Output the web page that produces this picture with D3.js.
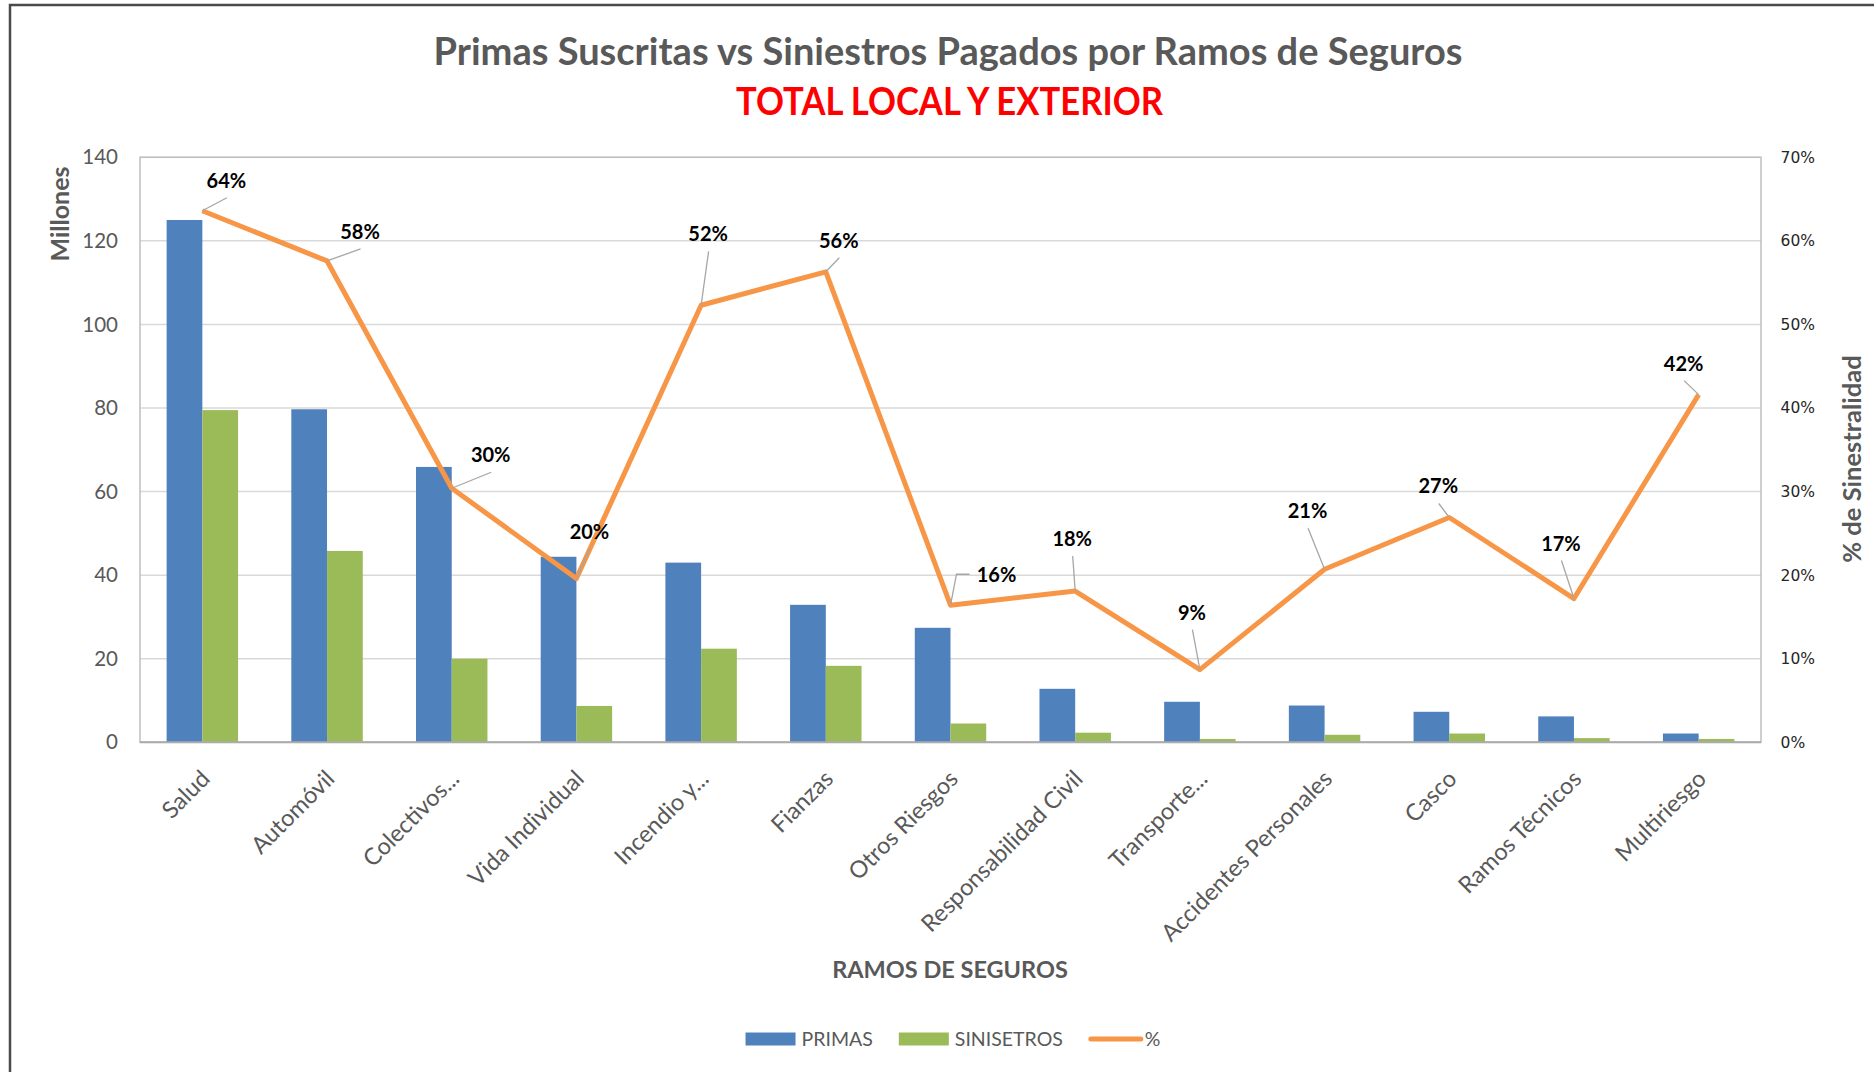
<!DOCTYPE html>
<html>
<head>
<meta charset="utf-8">
<script src="https://cdn.jsdelivr.net/npm/d3@7"></script>
<style>
  body { margin: 0; background: #fff; }
  svg { display: block; }
  text { font-family: Lato, "Open Sans", sans-serif; }
</style>
</head>
<body>
<div id="chart"></div>
<script>
// Data
const categories = ["Salud", "Automóvil", "Colectivos...", "Vida Individual", "Incendio y...", "Fianzas",
    "Otros Riesgos", "Responsabilidad Civil", "Transporte...", "Accidentes Personales", "Casco",
    "Ramos Técnicos", "Multiriesgo"];
const primas = [125.0, 79.7, 65.9, 44.4, 43.0, 32.9, 27.4, 12.8, 9.7, 8.8, 7.3, 6.2, 2.1];
const siniestros = [79.5, 45.8, 20.0, 8.7, 22.4, 18.3, 4.5, 2.3, 0.8, 1.8, 2.1, 1.0, 0.8];
const sinestralidad = [0.636, 0.576, 0.304, 0.196, 0.523, 0.563, 0.164, 0.181, 0.087, 0.207, 0.269, 0.172, 0.416];
const leftTicks = [0, 20, 40, 60, 80, 100, 120, 140];
const rightTicks = [0, 0.1, 0.2, 0.3, 0.4, 0.5, 0.6, 0.7];
const seriesNames = ["PRIMAS", "SINISETROS", "%"];

// where each % label was dragged to (offset from its point)
const labelOffsets = [[24, -30], [33, -29], [39, -33], [13, -47], [7, -71], [13, -31], [46, -30],
    [-3, -52], [-8, -57], [-17, -58], [-11, -31], [-13, -55], [-15, -31]];

const width = 1874;
const height = 1072;
const plot = { left: 140, right: 1761, top: 157.3, bottom: 742.3 };
const colors = { primas: "#4F81BD", siniestros: "#9BBB59", pct: "#F79646" };
const gray = "#595959";

const svg = d3.select("#chart")
    .append("svg")
    .attr("width", width)
    .attr("height", height);

// outer chart frame
svg.append("rect")
    .attr("x", 10).attr("y", 5)
    .attr("width", width).attr("height", height)
    .attr("fill", "none")
    .attr("stroke", "#4a4a4a")
    .attr("stroke-width", 2.5);

// Scales
const x = d3.scaleBand()
    .domain(categories)
    .range([plot.left, plot.right])
    .paddingInner(0.427)
    .paddingOuter(0.2135);

const xs = d3.scaleBand()
    .domain(["primas", "siniestros"])
    .range([0, x.bandwidth()]);

const yL = d3.scaleLinear().domain([0, 140]).range([plot.bottom, plot.top]);
const yR = d3.scaleLinear().domain([0, 0.7]).range([plot.bottom, plot.top]);

// Gridlines
svg.append("g")
    .selectAll("line")
    .data(leftTicks)
    .enter()
    .append("line")
    .attr("x1", plot.left).attr("x2", plot.right)
    .attr("y1", d => yL(d)).attr("y2", d => yL(d))
    .attr("stroke", "#D9D9D9")
    .attr("stroke-width", 1.5);

// plot area border
svg.append("rect")
    .attr("x", plot.left).attr("y", plot.top)
    .attr("width", plot.right - plot.left)
    .attr("height", plot.bottom - plot.top)
    .attr("fill", "none")
    .attr("stroke", "#BFBFBF")
    .attr("stroke-width", 1.5);

// Bars
const rows = categories.map((c, i) => ({ cat: c, primas: primas[i], siniestros: siniestros[i] }));

const groups = svg.append("g")
    .selectAll("g")
    .data(rows)
    .enter()
    .append("g")
    .attr("transform", d => `translate(${x(d.cat)},0)`);

groups.selectAll("rect")
    .data(d => ["primas", "siniestros"].map(k => ({ key: k, value: d[k] })))
    .enter()
    .append("rect")
    .attr("x", d => xs(d.key))
    .attr("y", d => yL(d.value))
    .attr("width", xs.bandwidth())
    .attr("height", d => yL(0) - yL(d.value))
    .attr("fill", d => colors[d.key]);

// axis baseline
svg.append("line")
    .attr("x1", plot.left).attr("x2", plot.right)
    .attr("y1", plot.bottom).attr("y2", plot.bottom)
    .attr("stroke", "#ABABAB")
    .attr("stroke-width", 2);

// Line series
const cx = i => x(categories[i]) + x.bandwidth() / 2;

const line = d3.line()
    .x((d, i) => cx(i))
    .y(d => yR(d));

svg.append("path")
    .datum(sinestralidad)
    .attr("d", line)
    .attr("fill", "none")
    .attr("stroke", colors.pct)
    .attr("stroke-width", 5)
    .attr("stroke-linejoin", "round");

// Data labels with leader lines
const fmtPct = d3.format(".0%");
const labelData = sinestralidad.map((v, i) => {
    const px = cx(i), py = yR(v);
    const [dx, dy] = labelOffsets[i];
    return { v, px, py, lx: px + dx, ly: py + dy };
});

const leaders = svg.append("g");
labelData.forEach(d => {
    let pts;
    if (d.lx - d.px > 42) {
        // label sits to the right: leader hooks into its left side
        pts = [[d.px, d.py], [d.px + 6, d.ly - 1], [d.lx - 27, d.ly - 1]];
    } else {
        pts = [[d.px, d.py], [d.lx + 0.5, d.ly + 17]];
    }
    leaders.append("path")
        .attr("d", d3.line()(pts))
        .attr("fill", "none")
        .attr("stroke", "#A6A6A6")
        .attr("stroke-width", 1.3);
});

svg.append("g")
    .selectAll("text")
    .data(labelData)
    .enter()
    .append("text")
    .attr("x", d => d.lx)
    .attr("y", d => d.ly + 7)
    .attr("text-anchor", "middle")
    .style("font-size", "20px")
    .style("font-weight", "700")
    .style("fill", "#000")
    .text(d => fmtPct(d.v));

// Left axis
const leftAxis = svg.append("g")
    .attr("transform", `translate(${plot.left},0)`)
    .call(d3.axisLeft(yL).tickValues(leftTicks).tickSize(0).tickPadding(22));
leftAxis.select(".domain").remove();
leftAxis.attr("font-family", null).attr("font-size", null);
leftAxis.selectAll("text")
    .style("font-size", "20.5px")
    .style("fill", gray);

// Right axis
const rightAxis = svg.append("g")
    .attr("transform", `translate(${plot.right},0)`)
    .call(d3.axisRight(yR).tickValues(rightTicks).tickFormat(fmtPct).tickSize(0).tickPadding(19.6));
rightAxis.select(".domain").remove();
rightAxis.attr("font-family", null).attr("font-size", null);
rightAxis.selectAll("text")
    .style("font-family", "'DejaVu Sans', Verdana, sans-serif")
    .style("font-size", "15.5px")
    .style("fill", "#262626");

// Bottom axis (rotated category labels)
const bottomAxis = svg.append("g")
    .attr("transform", `translate(0,${plot.bottom})`)
    .call(d3.axisBottom(x).tickSize(0));
bottomAxis.select(".domain").remove();
bottomAxis.attr("font-family", null).attr("font-size", null);
bottomAxis.selectAll("text")
    .attr("x", 0).attr("y", 0).attr("dy", null)
    .attr("text-anchor", "end")
    .attr("transform", "translate(9,38) rotate(-45)")
    .style("font-size", "23.5px")
    .style("fill", gray);

// Titles
svg.append("text")
    .attr("x", 948).attr("y", 65)
    .attr("text-anchor", "middle")
    .attr("textLength", 1029)
    .attr("lengthAdjust", "spacingAndGlyphs")
    .style("font-size", "38px")
    .style("font-weight", "700")
    .style("fill", gray)
    .text("Primas Suscritas vs Siniestros Pagados por Ramos de Seguros");

svg.append("text")
    .attr("x", 949.5).attr("y", 115)
    .attr("text-anchor", "middle")
    .attr("textLength", 427)
    .attr("lengthAdjust", "spacingAndGlyphs")
    .style("font-size", "39px")
    .style("font-weight", "700")
    .style("fill", "#FF0000")
    .text("TOTAL LOCAL Y EXTERIOR");

// Axis titles
svg.append("text")
    .attr("transform", "translate(69,214) rotate(-90)")
    .attr("text-anchor", "middle")
    .style("font-size", "25px")
    .style("font-weight", "700")
    .style("fill", gray)
    .text("Millones");

svg.append("text")
    .attr("transform", "translate(1861,459) rotate(-90)")
    .attr("text-anchor", "middle")
    .style("font-size", "25.5px")
    .style("font-weight", "700")
    .style("fill", gray)
    .text("% de Sinestralidad");

svg.append("text")
    .attr("x", 950).attr("y", 978)
    .attr("text-anchor", "middle")
    .style("font-size", "23.5px")
    .style("font-weight", "700")
    .style("fill", gray)
    .text("RAMOS DE SEGUROS");

// Legend
const legendY = 1039;
const legend = svg.append("g");
const items = seriesNames.map((name, i) => ({ name, key: ["primas", "siniestros", "pct"][i] }));
let lx = 0;
items.forEach(item => {
    const g = legend.append("g").attr("transform", `translate(${lx},0)`);
    if (item.key === "pct") {
        g.append("line")
            .attr("x1", 2).attr("x2", 52)
            .attr("y1", legendY).attr("y2", legendY)
            .attr("stroke", colors.pct)
            .attr("stroke-width", 5)
            .attr("stroke-linecap", "round");
    } else {
        g.append("rect")
            .attr("x", 0).attr("y", legendY - 6.5)
            .attr("width", 50).attr("height", 13)
            .attr("fill", colors[item.key]);
    }
    const t = g.append("text")
        .attr("x", 56).attr("y", legendY + 6.5)
        .style("font-size", "19.5px")
        .style("fill", gray)
        .text(item.name);
    lx += 56 + t.node().getComputedTextLength() + 26;
});
const legendWidth = lx - 26;
legend.attr("transform", `translate(${953 - legendWidth / 2},0)`);
</script>
</body>
</html>
